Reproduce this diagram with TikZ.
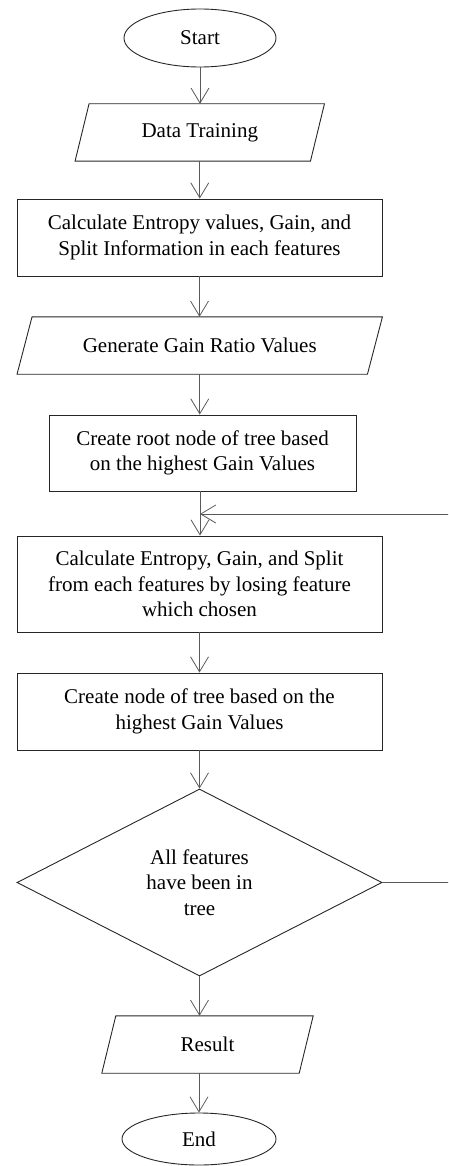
\documentclass[tikz,border=0pt]{standalone}
\usepackage{fontspec}
\setmainfont{Liberation Serif}
\usetikzlibrary{arrows.meta,shapes.geometric}
\newcommand{\ioshape}[2]{\draw[outline] ([xshift=#2]#1.north west) -- ([xshift=#2]#1.north east) -- ([xshift=-#2]#1.south east) -- ([xshift=-#2]#1.south west) -- cycle;}
\begin{document}
\begin{tikzpicture}[x=1pt,y=-1pt,
  outline/.style={draw=black!85, line width=0.9pt},
  txt/.style={font=\fontsize{21}{25.5}\selectfont, align=center, inner sep=0pt},
  term/.style={txt, ellipse, outline},
  proc/.style={txt, rectangle, outline},
  iobox/.style={txt, rectangle},
  decbox/.style={txt, diamond, outline},
  arr/.style={draw=black!65, line width=0.8pt, -{Straight Barb[length=15pt,width=18pt]}},
  lnk/.style={draw=black!65, line width=0.8pt}]
\useasboundingbox (0,0) rectangle (448,1166);
\clip (0,0) rectangle (448,1166);

\node[term, minimum width=152, minimum height=58] (start) at (200,38) {Start};
\node[iobox, minimum width=235, minimum height=57] (dt) at (199.75,132.5) {Data Training};
\ioshape{dt}{7}
\node[proc, minimum width=365, minimum height=77] (b1) at (199.5,237.5) {Calculate Entropy values, Gain, and\\Split Information in each features};
\node[iobox, minimum width=350, minimum height=57] (gr) at (199.75,345.5) {Generate Gain Ratio Values};
\ioshape{gr}{7.5}
\node[proc, minimum width=307, minimum height=76] (b2) at (202.5,453) {Create root node of tree based\\on the highest Gain Values};
\node[proc, minimum width=365, minimum height=96] (b3) at (199.5,584) {Calculate Entropy, Gain, and Split\\from each features by losing feature\\which chosen};
\node[proc, minimum width=365, minimum height=77] (b4) at (199.5,711.5) {Create node of tree based on the\\highest Gain Values};
\node[decbox, minimum width=365, minimum height=187] (dec) at (199.5,882.5) {All features\\have been in\\tree};
\node[iobox, minimum width=197, minimum height=57] (res) at (207.5,1044.5) {Result};
\ioshape{res}{7}
\node[term, minimum width=154, minimum height=52] (end) at (199,1139) {End};

\coordinate (fbin) at (200,514);

\draw[arr] (start) -- (start.south |- dt.north);
\draw[arr] (dt.south) -- (dt.south |- b1.north);
\draw[arr] (b1.south) -- (b1.south |- gr.north);
\draw[arr] (gr.south) -- (gr.south |- b2.north);
\draw[arr] (b2.south -| fbin) -- (b3.north -| fbin);
\draw[arr] (b3.south) -- (b4.north);
\draw[arr] (b4.south) -- (dec.north);
\draw[arr] (dec.south) -- (dec.south |- res.north);
\draw[arr] (res.south -| end.north) -- (end.north);
\draw[arr] (dec.east) -- ++(80,0) |- (fbin);
\end{tikzpicture}
\end{document}
